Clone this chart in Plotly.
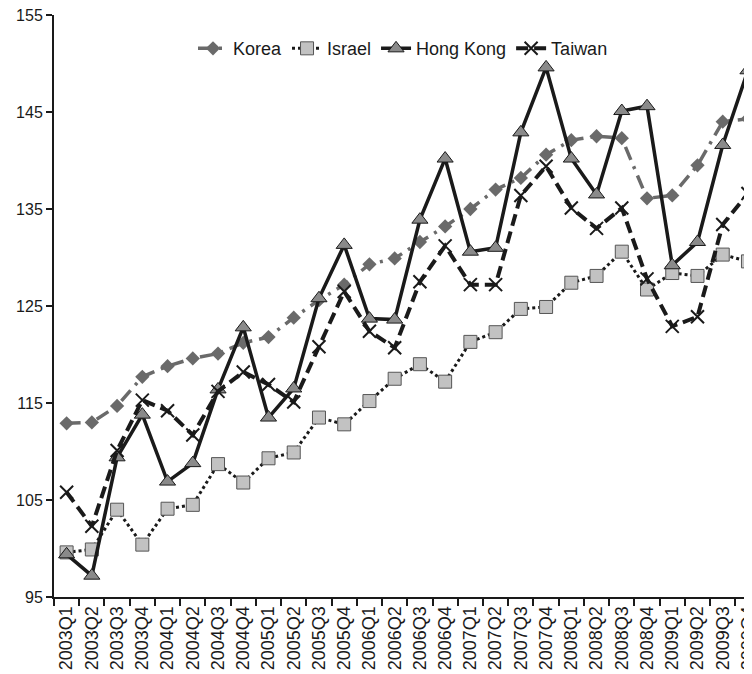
import plotly.graph_objects as go

quarters = [f"{y}Q{q}" for y in range(2003, 2010) for q in range(1, 5)]

korea = [112.9, 113.0, 114.7, 117.7, 118.8, 119.6, 120.1, 121.2, 121.8, 123.8,
         125.6, 127.2, 129.3, 129.9, 131.6, 133.2, 135.0, 137.0, 138.2, 140.6,
         142.1, 142.5, 142.3, 136.1, 136.4, 139.5, 144.0, 144.3]
israel = [99.6, 99.9, 104.0, 100.4, 104.1, 104.5, 108.7, 106.8, 109.3, 109.9,
          113.5, 112.8, 115.2, 117.5, 119.0, 117.2, 121.3, 122.3, 124.7, 124.9,
          127.4, 128.1, 130.6, 126.7, 128.4, 128.1, 130.3, 129.6]
hong_kong = [99.4, 97.2, 109.4, 113.8, 106.9, 108.8, 116.4, 122.8, 113.5, 116.5,
             125.8, 131.3, 123.7, 123.6, 133.9, 140.2, 130.6, 131.0, 142.9, 149.6,
             140.2, 136.5, 145.1, 145.6, 129.2, 131.6, 141.6, 149.3]
taiwan = [105.8, 102.3, 110.1, 115.3, 114.2, 111.7, 116.2, 118.2, 116.9, 115.1,
          120.8, 126.5, 122.4, 120.7, 127.5, 131.2, 127.2, 127.2, 136.4, 139.4,
          135.1, 133.0, 135.1, 127.8, 122.9, 123.9, 133.4, 136.6]

y_ticks = [95, 105, 115, 125, 135, 145, 155]

fig = go.Figure()
fig.add_trace(go.Scatter(
    x=quarters, y=korea, name="Korea", mode="lines+markers",
    line=dict(color="#6a6a6a", width=3.5, dash="14px,7px,3px,7px"),
    marker=dict(symbol="diamond", size=11, color="#6a6a6a"),
))
fig.add_trace(go.Scatter(
    x=quarters, y=israel, name="Israel", mode="lines+markers",
    line=dict(color="#1a1a1a", width=3, dash="dot"),
    marker=dict(symbol="square", size=13, color="#c2c2c2",
                line=dict(color="#555555", width=1)),
))
fig.add_trace(go.Scatter(
    x=quarters, y=hong_kong, name="Hong Kong", mode="lines+markers",
    line=dict(color="#1a1a1a", width=3.5),
    marker=dict(symbol="triangle-up", size=14, color="#8a8a8a",
                line=dict(color="#1a1a1a", width=1)),
))
fig.add_trace(go.Scatter(
    x=quarters, y=taiwan, name="Taiwan", mode="lines+markers",
    line=dict(color="#1a1a1a", width=4, dash="12px,6px"),
    marker=dict(symbol="x-thin", size=13, color="#1a1a1a",
                line=dict(color="#1a1a1a", width=2)),
))

fig.update_layout(
    width=752, height=674,
    margin=dict(l=46, r=8, t=7, b=85, pad=0),
    paper_bgcolor="white", plot_bgcolor="white",
    font=dict(family="Liberation Sans, Arial, sans-serif", color="#1a1a1a", size=18),
    showlegend=True,
    legend=dict(orientation="h", x=0.5, y=0.974, xanchor="center", yanchor="top",
                bgcolor="rgba(0,0,0,0)", font=dict(size=18),
                tracegroupgap=0),
)
fig.update_xaxes(
    type="category", range=[-0.5, 27.16], automargin=False,
    showline=True, linecolor="#1a1a1a", linewidth=2,
    ticks="outside", tickson="boundaries", ticklen=7, tickwidth=1.5, tickcolor="#1a1a1a",
    tickangle=-90, tickfont=dict(size=18), showgrid=False, zeroline=False,
    ticklabeloverflow="allow",
)
fig.update_yaxes(
    range=[95, 155], tickvals=y_ticks, automargin=False,
    showline=True, linecolor="#1a1a1a", linewidth=2,
    ticks="outside", ticklen=6, tickwidth=1.5, tickcolor="#1a1a1a",
    tickfont=dict(size=16), showgrid=False, zeroline=False,
    ticklabeloverflow="allow",
)

fig.write_html("out.html")
